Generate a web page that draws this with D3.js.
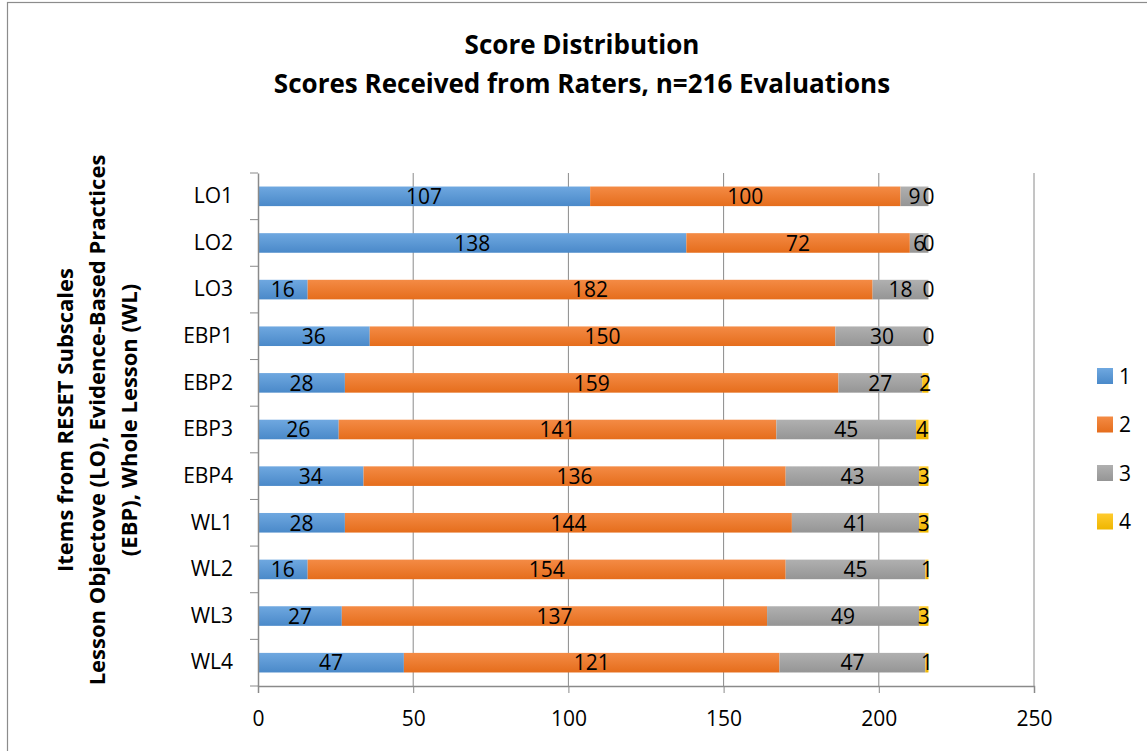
<!DOCTYPE html>
<html>
<head>
<meta charset="utf-8">
<script src="https://cdn.jsdelivr.net/npm/d3@7"></script>
<style>
  body { margin: 0; background: #fff; }
  svg { display: block; font-family: "Open Sans", sans-serif; }
</style>
</head>
<body>
<script>
// data
const items = ["LO1", "LO2", "LO3", "EBP1", "EBP2", "EBP3", "EBP4", "WL1", "WL2", "WL3", "WL4"];
const scores = ["1", "2", "3", "4"];
const score1 = [107, 138, 16, 36, 28, 26, 34, 28, 16, 27, 47];
const score2 = [100, 72, 182, 150, 159, 141, 136, 144, 154, 137, 121];
const score3 = [9, 6, 18, 30, 27, 45, 43, 41, 45, 49, 47];
const score4 = [0, 0, 0, 0, 2, 4, 3, 3, 1, 3, 1];
const xTicks = [0, 50, 100, 150, 200, 250];

const canvWidth = 1147, canvHeight = 751;
const svg = d3.select("body").append("svg")
    .attr("width", canvWidth)
    .attr("height", canvHeight);

const colors = {
  "1": ["#6fa8e0", "#4a89c9"],
  "2": ["#f48b45", "#e56d1c"],
  "3": ["#b0b0b0", "#959595"],
  "4": ["#ffcb2e", "#efb600"]
};

const defs = svg.append("defs");
scores.forEach(s => {
  const gr = defs.append("linearGradient")
      .attr("id", "grad" + s)
      .attr("x1", 0).attr("y1", 0).attr("x2", 0).attr("y2", 1);
  gr.append("stop").attr("offset", "0%").attr("stop-color", colors[s][0]);
  gr.append("stop").attr("offset", "100%").attr("stop-color", colors[s][1]);
});

// chart border
svg.append("rect")
    .attr("x", 7.5).attr("y", 2.5)
    .attr("width", 1160).attr("height", 800)
    .attr("fill", "none")
    .attr("stroke", "#8c8c8c")
    .attr("stroke-width", 1.2);

// titles
svg.append("text")
    .attr("x", 582).attr("y", 45)
    .attr("dy", "0.35em")
    .attr("text-anchor", "middle")
    .attr("font-size", "26px")
    .attr("font-weight", "bold")
    .text("Score Distribution");
svg.append("text")
    .attr("x", 582).attr("y", 84)
    .attr("dy", "0.35em")
    .attr("text-anchor", "middle")
    .attr("font-size", "26px")
    .attr("font-weight", "bold")
    .text("Scores Received from Raters, n=216 Evaluations");

const margin = {top: 173, left: 258};
const width = 1034 - margin.left;
const height = 686 - margin.top;

const g = svg.append("g")
    .attr("transform", "translate(" + margin.left + "," + margin.top + ")");

const xScale = d3.scaleLinear().domain([0, 250]).range([0, width]);
const yScale = d3.scaleBand().domain(items).range([0, height]).paddingInner(0.58).paddingOuter(0.29);

// gridlines
g.selectAll("line.grid")
    .data(xTicks.slice(1))
    .enter().append("line")
    .attr("class", "grid")
    .attr("x1", d => xScale(d)).attr("x2", d => xScale(d))
    .attr("y1", 0).attr("y2", height)
    .attr("stroke", "#8a8a8a")
    .attr("stroke-width", 1);

// stacked data
const table = items.map((it, i) => ({item: it, "1": score1[i], "2": score2[i], "3": score3[i], "4": score4[i]}));
const stacked = d3.stack().keys(scores)(table);

const layers = g.selectAll("g.layer")
    .data(stacked)
    .enter().append("g")
    .attr("class", "layer")
    .attr("fill", d => "url(#grad" + d.key + ")");

layers.selectAll("rect")
    .data(d => d)
    .enter().append("rect")
    .attr("x", d => xScale(d[0]))
    .attr("y", d => yScale(d.data.item))
    .attr("width", d => xScale(d[1]) - xScale(d[0]))
    .attr("height", yScale.bandwidth());

// data labels
stacked.forEach(layer => {
  g.append("g").selectAll("text")
      .data(layer)
      .enter().append("text")
      .attr("x", d => xScale((d[0] + d[1]) / 2))
      .attr("y", d => yScale(d.data.item) + yScale.bandwidth() / 2)
      .attr("dy", "0.37em")
      .attr("text-anchor", "middle")
      .attr("font-size", "21px")
      .attr("fill", "#000")
      .text(d => d.data[layer.key]);
});

// x axis
const xAxis = g.append("g")
    .attr("transform", "translate(0," + height + ")")
    .call(d3.axisBottom(xScale).tickValues(xTicks).tickSize(7).tickPadding(18));
xAxis.select(".domain").attr("stroke", "#8a8a8a").attr("stroke-width", 1.5);
xAxis.selectAll(".tick line").attr("stroke", "#8a8a8a");
xAxis.selectAll(".tick text").attr("font-size", "21px").attr("font-family", "Open Sans, sans-serif").attr("fill", "#000");

// y axis
const yAxis = g.append("g")
    .call(d3.axisLeft(yScale).tickSize(0).tickPadding(25));
yAxis.select(".domain").attr("stroke", "#8a8a8a").attr("stroke-width", 1.5);
yAxis.selectAll(".tick text").attr("font-size", "21px").attr("font-family", "Open Sans, sans-serif").attr("fill", "#000");
g.selectAll("line.ytick")
    .data(d3.range(items.length + 1))
    .enter().append("line")
    .attr("class", "ytick")
    .attr("x1", -8).attr("x2", 0)
    .attr("y1", i => i * height / items.length)
    .attr("y2", i => i * height / items.length)
    .attr("stroke", "#8a8a8a");

// y axis title
const yTitle = ["Items from RESET Subscales", "Lesson Objectove (LO), Evidence-Based Practices", "(EBP), Whole Lesson (WL)"];
svg.append("g").selectAll("text")
    .data(yTitle)
    .enter().append("text")
    .attr("transform", (d, i) => "translate(" + (65 + i * 32) + ",420) rotate(-90)")
    .attr("dy", "0.35em")
    .attr("text-anchor", "middle")
    .attr("font-size", "22px")
    .attr("font-weight", "bold")
    .text(d => d);

// legend
const legend = svg.append("g").selectAll("g")
    .data(scores)
    .enter().append("g")
    .attr("transform", (d, i) => "translate(1097," + (376 + i * 48.5) + ")");
legend.append("rect")
    .attr("x", 0).attr("y", -8)
    .attr("width", 16).attr("height", 16)
    .attr("fill", d => "url(#grad" + d + ")");
legend.append("text")
    .attr("x", 22).attr("y", 0)
    .attr("dy", "0.37em")
    .attr("font-size", "21px")
    .text(d => d);
</script>
</body>
</html>
